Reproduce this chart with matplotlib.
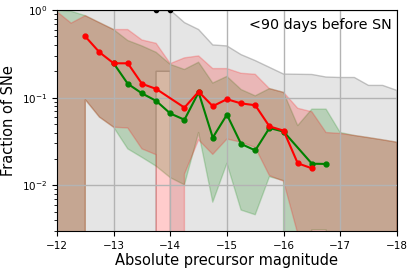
import numpy as np
import matplotlib
matplotlib.use("Agg")
import matplotlib.pyplot as plt

# magnitude grid of the bands
mag = [-12.0, -12.25, -12.5, -12.75, -13.0, -13.25, -13.5, -13.75, -14.0, -14.25,
       -14.5, -14.75, -15.0, -15.25, -15.5, -15.75, -16.0, -16.25, -16.5, -16.75,
       -17.0, -17.25, -17.5, -17.75, -18.0]

# gray band (all SNe)
gray_lo = [0, 0, 0, 0, 0, 0, 0, 0.2, 0.2, 0,
           0, 0, 0, 0, 0, 0, 0, 0, 0, 0,
           0, 0, 0, 0, 0]
gray_hi = [1.0, 1.0, 1.0, 1.0, 1.0, 1.0, 1.0, 1.0, 1.0, 0.72,
           0.60, 0.40, 0.39, 0.31, 0.265, 0.222, 0.186, 0.185, 0.184, 0.172,
           0.17, 0.17, 0.138, 0.138, 0.121]

# red band
red_lo = [0, 0, 0.095, 0.060, 0.046, 0.045, 0.026, 0.0223, 0, 0.0134,
          0.033, 0.0225, 0.0337, 0.031, 0.027, 0.0129, 0.0111, 0.0028, 0, 0,
          0, 0, 0, 0, 0]
red_hi = [0.96, 0.71, 0.865, 0.72, 0.60, 0.60, 0.456, 0.418, 0.245, 0.285,
          0.30, 0.215, 0.215, 0.19, 0.185, 0.127, 0.115, 0.0757, 0.069, 0.040,
          0.039, 0.037, 0.035, 0.033, 0.031]

# green band
green_lo = [0, 0, 0.095, 0.060, 0.046, 0.026, 0.0208, 0.0165, 0.0122, 0.0101,
            0.040, 0.0064, 0.0178, 0.0052, 0.0046, 0.0125, 0.0113, 0, 0.0031, 0.0031,
            0, 0, 0, 0, 0]
green_hi = [1.0, 0.97, 0.865, 0.72, 0.60, 0.45, 0.39, 0.33, 0.24, 0.21,
            0.254, 0.147, 0.175, 0.124, 0.105, 0.127, 0.115, 0.048, 0.074, 0.074,
            0.040, 0.037, 0.035, 0.033, 0.031]

# lines
black_mag = [-13.75, -14.0]
black_frac = [1.0, 1.0]

red_mag = [-12.5, -12.75, -13.0, -13.25, -13.5, -13.75, -14.25, -14.5, -14.75,
           -15.0, -15.25, -15.5, -15.75, -16.0, -16.25, -16.5]
red_frac = [0.50, 0.33, 0.247, 0.247, 0.144, 0.126, 0.077, 0.117, 0.080,
            0.096, 0.086, 0.082, 0.047, 0.042, 0.0178, 0.0156]

green_mag = [-13.0, -13.25, -13.5, -13.75, -14.0, -14.25, -14.5, -14.75, -15.0,
             -15.25, -15.5, -15.75, -16.0, -16.5, -16.75]
green_frac = [0.247, 0.144, 0.112, 0.092, 0.066, 0.056, 0.115, 0.035, 0.064,
              0.0296, 0.025, 0.045, 0.041, 0.0176, 0.0175]

fig = plt.figure(figsize=(4.16, 2.74), dpi=100)
ax = fig.add_axes([0.137, 0.157, 0.817, 0.806])
ax.set_yscale('log')

ax.fill_between(mag, gray_lo, gray_hi, facecolor=(0.5, 0.5, 0.5, 0.2),
                edgecolor=(0.5, 0.5, 0.5, 0.45), lw=1)
ax.fill_between(mag, green_lo, green_hi, color='green', alpha=0.2)
ax.fill_between(mag, red_lo, red_hi, color='red', alpha=0.2)

ax.plot(black_mag, black_frac, color='black', marker='o', ms=3, lw=1.5)
ax.plot(green_mag, green_frac, color='green', marker='o', ms=3.5, lw=1.5)
ax.plot(red_mag, red_frac, color='red', marker='o', ms=3.5, lw=1.5)

ax.set_xlim(-12, -18)
ax.set_ylim(0.003, 1)
ax.set_xticks([-12, -13, -14, -15, -16, -17, -18])
ax.grid(True, which='major', color='0.7', lw=1)
ax.set_axisbelow('line')
ax.tick_params(labelsize=7.5)
ax.set_xlabel('Absolute precursor magnitude', fontsize=10.5, labelpad=2)
ax.set_ylabel('Fraction of SNe', fontsize=10.5)
ax.text(0.985, 0.965, '<90 days before SN', transform=ax.transAxes,
        ha='right', va='top', fontsize=10.3)

fig.savefig('out.png', dpi=100)
